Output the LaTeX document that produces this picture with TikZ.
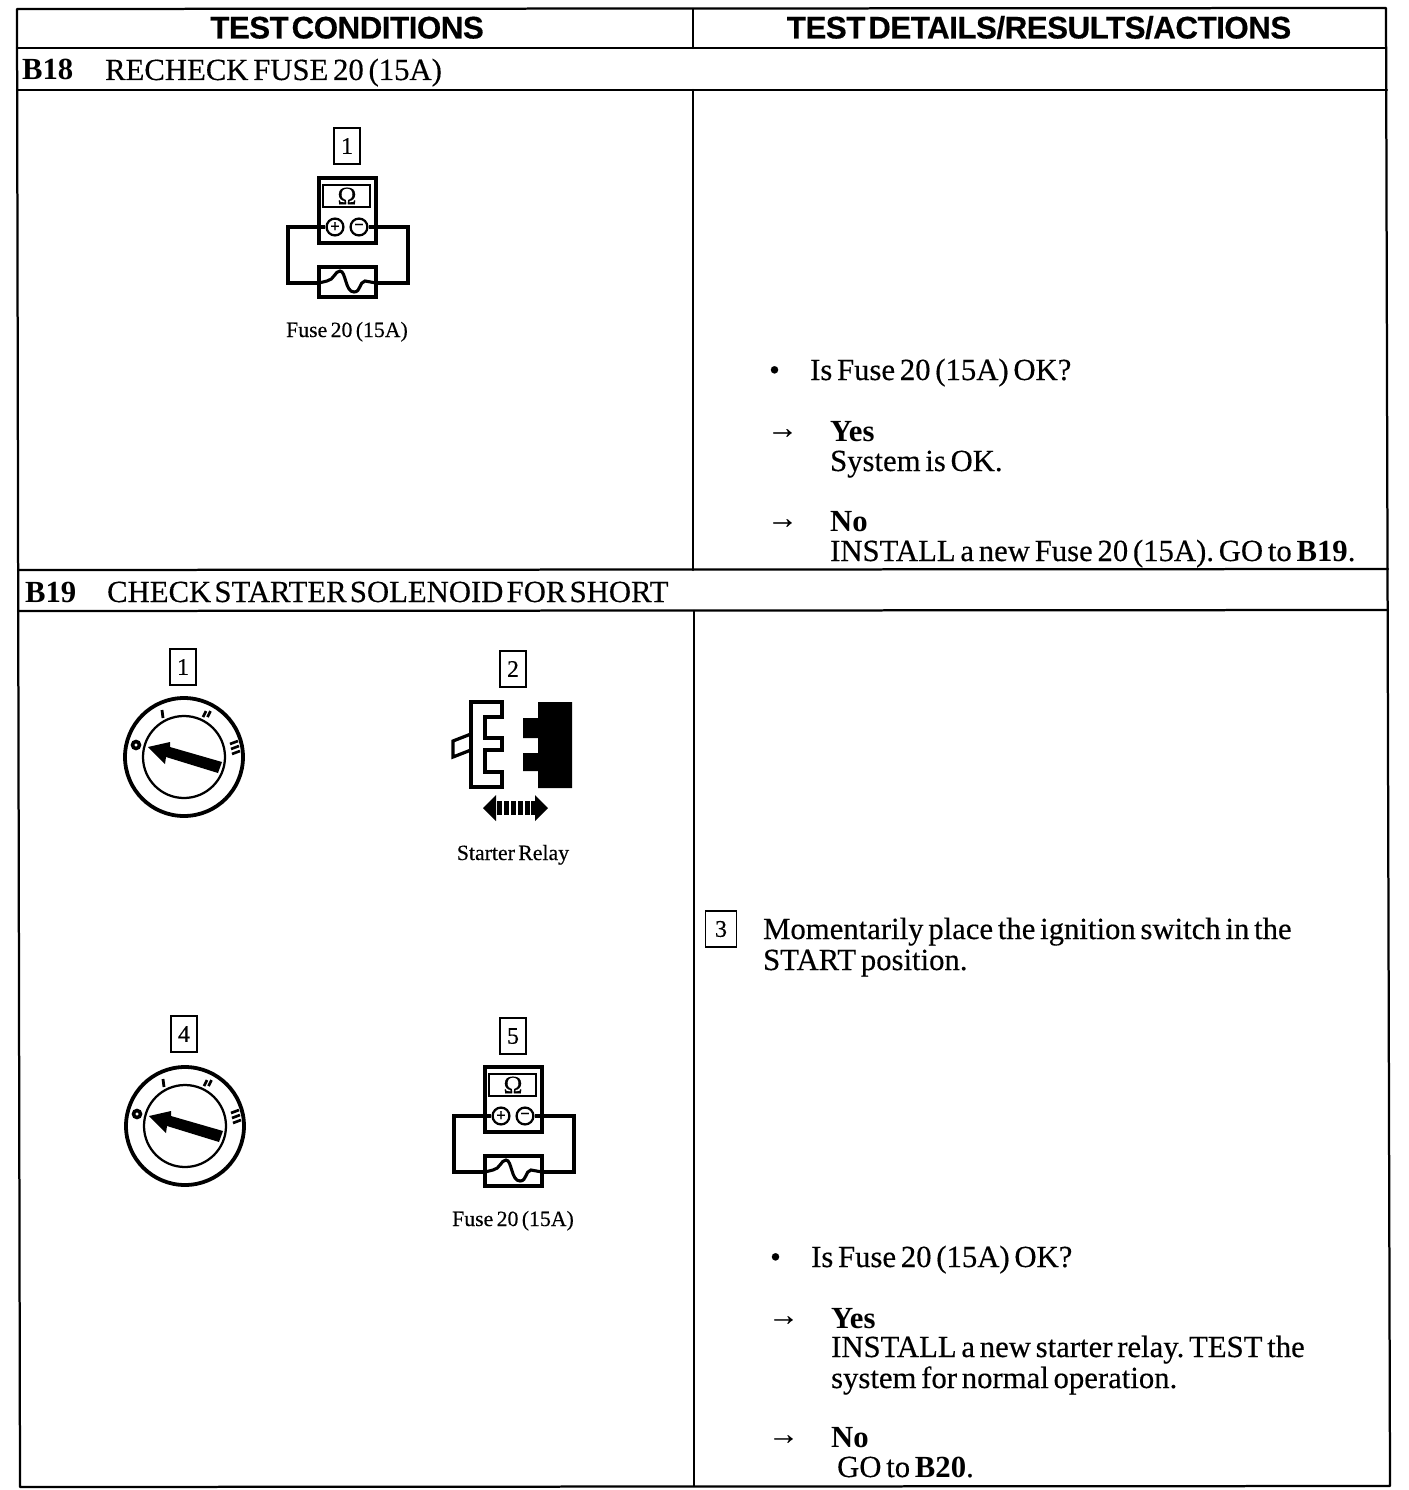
\documentclass[tikz,border=0pt]{standalone}
\usepackage{fontspec}
\setmainfont{Liberation Serif}[FakeBold=0.35,WordSpace=0.62]
\newfontfamily\tightserif{Liberation Serif}[FakeBold=0.35,WordSpace=0.42]
\newfontfamily\headfont{Liberation Sans}[WordSpace=0.35,LetterSpace=-1.5,FakeBold=0.4]
\newfontfamily\boldserif{Liberation Serif Bold}[WordSpace=0.62]
\newcommand{\bodysize}{\fontsize{43.7}{44}\selectfont}
\newcommand{\smallsize}{\fontsize{31}{31}\selectfont}
\tikzset{
  x=0.05cm,y=-0.05cm,
  rule/.style={line width=3.2pt,line cap=round,line join=round},
  thickline/.style={line width=4.6pt,line join=miter},
  thinline/.style={line width=3pt,line join=miter},
  header/.style={inner sep=0pt,anchor=base,font=\headfont\bfseries\fontsize{44.5}{44.5}\selectfont},
  body/.style={inner sep=0pt,anchor=base west,font=\bodysize},
  caption/.style={inner sep=0pt,anchor=base,font=\smallsize},
  numbox/.style={draw,line width=2.6pt,inner sep=0pt,minimum width=36pt,minimum height=51pt,font=\fontsize{34}{34}\selectfont},
  meter/.pic={
    \draw[thickline] (-28,-49) rectangle (29,16);
    \draw[thinline] (-24,-42) rectangle (23,-20);
    \node[inner sep=0pt,font=\fontsize{36}{36}\selectfont] (-ohm) at (0,-31) {Ω};
    \node[circle,draw,line width=3.2pt,minimum size=24pt,inner sep=0pt,font=\fontsize{24}{24}\selectfont\bfseries] (-plus) at (-12,0) {+};
    \node[circle,draw,line width=3.2pt,minimum size=24pt,inner sep=0pt,font=\fontsize{24}{24}\selectfont\bfseries] (-minus) at (12,0) {−};
    \draw[thickline] (-28,40) rectangle (29,70);
    \coordinate (-fl) at (-28,56);
    \coordinate (-fr) at (29,56);
    \draw[thickline] (-plus.west) -- (-59,0) -- (-59,56) -- (-fl);
    \draw[thickline] (-minus.east) -- (61,0) -- (61,56) -- (-fr);
    \draw[line width=7pt] (-50,56) -- (-39,56);
    \draw[line width=7pt] (39,56) -- (51,56);
    \draw[line width=4.4pt] (-fl) -- (-20,54) .. controls (-13,53) and (-12,44) .. (-7,44)
      .. controls (-1,44) and (-2,65) .. (7,65) .. controls (14,65) and (12,55) .. (18,54) -- (-fr);
  },
  ignswitch/.pic={
    \draw[line width=5.4pt] (0,0) circle (59);
    \draw[line width=3.2pt] (0,0) circle (41);
    \fill (-36,-10) -- (-14,-15) -- (-14,-10) -- (38,5) -- (34,16) -- (-18,0) -- (-19,7) -- cycle;
    \draw[line width=5pt] (-48,-12) circle (3.5);
    \draw[line width=4pt] (-22,-47) -- (-21,-39);
    \draw[line width=3.8pt] (19,-40) -- (22,-46) (23.5,-40) -- (26.5,-46);
    \draw[line width=3.8pt] (46,-13) -- (54,-16) (47,-8) -- (55,-11) (48,-3) -- (56,-6);
  },
  relay/.pic={
    \draw[thickline] (0,0) -- (31,0) -- (31,15) -- (14,15) -- (14,36) -- (31,36) -- (31,48) -- (14,48)
      -- (14,70) -- (31,70) -- (31,85) -- (0,85) -- cycle;
    \draw[thickline] (0,32) -- (-18,39) -- (-18,55) -- (0,48);
    \fill (67,0) -- (101,0) -- (101,86) -- (67,86) -- (67,69) -- (52,69) -- (52,51) -- (67,51)
      -- (67,36) -- (52,36) -- (52,16) -- (67,16) -- cycle;
    \fill (12,106) -- (25,93) -- (25,119) -- cycle;
    \fill (77,106) -- (64,93) -- (64,119) -- cycle;
    \foreach \i in {26,33,40,47,54,60} \fill (\i,99) rectangle +(5,14);
  }
}
\begin{document}
\begin{tikzpicture}
\frenchspacing
\useasboundingbox (0,0) rectangle (1408,1490);
\fill[white] (0,0) rectangle (1408,1490);
% table rules
\draw[rule] (17,9) -- (1386,8) -- (1390,1486) -- (20,1487) -- cycle;
\draw[rule] (17,48) -- (1386,48);
\draw[rule] (17,90) -- (1387,90);
\draw[rule] (18,570) -- (1388,569);
\draw[rule] (18,611) -- (1388,610);
\draw[rule] (693,9) -- (693,48);
\draw[rule] (693,90) -- (693,570);
\draw[rule] (694,611) -- (694,1486);
% headers
\node[header] (h1) at (347,38.5) {TEST CONDITIONS};
\node[header] (h2) at (1039,38.5) {TEST DETAILS/RESULTS/ACTIONS};
% B18
\node[body,font=\boldserif\bodysize] (b18) at (22,80) {B18};
\node[body] (b18t) at (105,80) {RECHECK FUSE 20 (15A)};
\node[numbox] (b18n1) at (347,146) {1};
\pic (m1) at (347,227) {meter};
\node[caption] (m1c) at (347,337) {Fuse 20 (15A)};
\node[body] (q1bul) at (769,380) {•};
\node[body] (q1) at (810,380) {Is Fuse 20 (15A) OK?};
\node[body] (a1) at (767,438) {→};
\node[body,font=\boldserif\bodysize] (y1) at (830,441) {Yes};
\node[body] (y1t) at (830,471) {System is OK.};
\node[body] (a2) at (767,528) {→};
\node[body,font=\boldserif\bodysize] (n1) at (830,531) {No};
\node[body] (n1t) at (830,561) {INSTALL a new Fuse 20 (15A). GO to {\boldserif B19}.};
% B19
\node[body,font=\boldserif\bodysize] (b19) at (25,602) {B19};
\node[body,font=\tightserif\bodysize] (b19t) at (107,602) {CHECK STARTER SOLENOID FOR SHORT};
\node[numbox] (b19n1) at (183,667) {1};
\pic (s1) at (184,757) {ignswitch};
\node[numbox] (b19n2) at (513,669) {2};
\pic (r1) at (471,702) {relay};
\node[caption] (r1c) at (513,860) {Starter Relay};
\node[numbox] (b19n4) at (184,1034) {4};
\pic (s2) at (185,1126) {ignswitch};
\node[numbox] (b19n5) at (513,1036) {5};
\pic (m2) at (513,1116) {meter};
\node[caption] (m2c) at (513,1226) {Fuse 20 (15A)};
\node[numbox,minimum width=44pt] (b19n3) at (721,929) {3};
\node[body] (s3a) at (763,939) {Momentarily place the ignition switch in the};
\node[body] (s3b) at (763,970) {START position.};
\node[body] (q2bul) at (770,1267) {•};
\node[body] (q2) at (811,1267) {Is Fuse 20 (15A) OK?};
\node[body] (a3) at (768,1325) {→};
\node[body,font=\boldserif\bodysize] (y2) at (831,1328) {Yes};
\node[body] (y2a) at (831,1357) {INSTALL a new starter relay. TEST the};
\node[body] (y2b) at (831,1388) {system for normal operation.};
\node[body] (a4) at (768,1444) {→};
\node[body,font=\boldserif\bodysize] (n2) at (831,1447) {No};
\node[body] (n2t) at (837,1477) {GO to {\boldserif B20}.};
\end{tikzpicture}
\end{document}
